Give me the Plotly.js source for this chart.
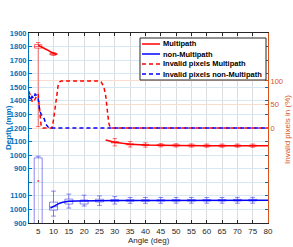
<!DOCTYPE html>
<html>
<head>
<meta charset="utf-8">
<script src="https://cdn.plot.ly/plotly-3.0.1.min.js"></script>
<style>html,body{margin:0;padding:0;background:#fff;}#chart{width:293px;height:247px;}</style>
</head>
<body>
<div id="chart"></div>
<script>
// ---- data (depth in mm, invalid pixels in %) ----
// non-Multipath depths are drawn on the lower (broken) part of the axis, shifted by LOWER_SHIFT
var LOWER_SHIFT = 400;

var angleTicks = [5,10,15,20,25,30,35,40,45,50,55,60,65,70,75,80];
var depthTickVals = [500,600,700,800,900,1000,1100,1200,1300,1400,1500,1600,1700,1800,1900];
var depthTickText = ['900','1000','1100','','900','1000','1100','1200','1300','1400','1500','1600','1700','1800','1900'];
var invalidTickVals = [0,50,100];

var seriesNames = ['Multipath','non-Multipath','Invalid pixels Multipath','Invalid pixels non-Multipath'];

// Multipath mean depth curve
var mpX = [5,6.5,8,9,10,11,null,27,28,30,32.5,35,40,45,50,60,70,80];
var mpY = [1810,1795,1775,1762,1750,1742,null,1112,1105,1095,1087,1081,1075,1072,1071,1070,1070,1070];

// non-Multipath mean depth curve
var nmX = [9,10,11,12,13,14,15,17.5,20,25,30,40,50,60,70,80];
var nmY = [1010,1022,1036,1046,1053,1057,1060,1063,1064,1065,1066,1066,1067,1067,1068,1068];

// Invalid pixels Multipath (%)
var invMpX = [2,2.5,3,3.5,4,4.5,5,5.5,6,6.5,9.5,10,10.5,11,11.5,12,12.5,25,25.5,26,26.5,27,27.5,28,28.5,80];
var invMpY = [78,69,57,55,62,68,72,38,2,0,0,17,46,72,90,98,100,100,98,93,85,70,45,12,0,0];

// Invalid pixels non-Multipath (%)
var invNmX = [2,2.5,3,3.5,4,4.5,5,5.5,6,6.5,7,7.5,8,8.5,80];
var invNmY = [69,59,67,63,72,69,63,36,29,25,19,8,4,0,0];

// Multipath box statistics
var mpBoxX   = [5,10,30,35,40,45,50,55,60,65,70,75];
var mpBoxMed = [1800,1745,1095,1080,1075,1073,1072,1071,1070,1070,1070,1070];
var mpBoxQ1  = [1788,1740,1090,1076,1071,1069,1068,1067,1066,1066,1066,1066];
var mpBoxQ3  = [1815,1750,1100,1084,1079,1077,1076,1075,1074,1074,1074,1074];
var mpBoxLo  = [1210,1735,1068,1060,1059,1061,1060,1059,1058,1058,1058,1058];
var mpBoxHi  = [1830,1755,1122,1100,1091,1085,1084,1083,1082,1082,1082,1082];
var mpOutX = [5];
var mpOutY = [810];

// non-Multipath box statistics
var nmBoxX   = [5,10,15,20,25,30,35,40,45,50,55,60,65,70,75];
var nmBoxMed = [870,1020,1060,1063,1065,1066,1066,1066,1066,1067,1067,1067,1067,1068,1068];
var nmBoxQ1  = [850,995,1040,1040,1055,1058,1060,1060,1061,1061,1061,1062,1062,1062,1062];
var nmBoxQ3  = [1380,1054,1076,1069,1075,1073,1072,1072,1072,1073,1073,1073,1073,1074,1074];
var nmBoxLo  = [800,951,1010,1025,1030,1040,1045,1045,1045,1046,1046,1046,1046,1046,1046];
var nmBoxHi  = [1392,1135,1113,1105,1100,1095,1088,1088,1088,1088,1088,1088,1088,1089,1089];

// ---- drawing ----
function shift(arr){ return arr.map(function(v){ return v === null ? null : v - LOWER_SHIFT; }); }

var RED = '#FF0000', BLUE = '#0000FF';
var AX_BLUE = '#0072BD', AX_ORANGE = '#D95319', DARK = '#262626';
var FONT = 'Liberation Sans, Arial, sans-serif';
var DASH = '4px,3px';

var traces = [
  {x: mpX, y: mpY, mode: 'lines', name: seriesNames[0], line: {color: RED, width: 1.5}, connectgaps: false, showlegend: false},
  {x: nmX, y: shift(nmY), mode: 'lines', name: seriesNames[1], line: {color: BLUE, width: 1.5}, showlegend: false},
  {x: invMpX, y: invMpY, yaxis: 'y2', mode: 'lines', name: seriesNames[2],
   line: {color: RED, width: 1.5, dash: DASH}, showlegend: false},
  {x: invNmX, y: invNmY, yaxis: 'y2', mode: 'lines', name: seriesNames[3],
   line: {color: BLUE, width: 1.5, dash: DASH}, showlegend: false},
  {type: 'box', orientation: 'v', x: mpBoxX, q1: mpBoxQ1, median: mpBoxMed, q3: mpBoxQ3,
   lowerfence: mpBoxLo, upperfence: mpBoxHi, width: 2.4, whiskerwidth: 0.6, boxpoints: false,
   line: {color: 'rgba(255,0,0,0.55)', width: 1}, fillcolor: 'rgba(0,0,0,0)', showlegend: false, hoverinfo: 'skip'},
  {type: 'box', orientation: 'v', x: nmBoxX, q1: shift(nmBoxQ1), median: shift(nmBoxMed), q3: shift(nmBoxQ3),
   lowerfence: shift(nmBoxLo), upperfence: shift(nmBoxHi), width: 2.6, whiskerwidth: 0.6, boxpoints: false,
   line: {color: 'rgba(60,60,230,0.6)', width: 1}, fillcolor: 'rgba(0,0,0,0)', showlegend: false, hoverinfo: 'skip'},
  {x: mpOutX, y: mpOutY, mode: 'markers', marker: {color: 'rgba(255,0,0,0.7)', size: 2}, showlegend: false}
];

// plot-area pixel geometry, for placing legend / titles in paper coordinates
var W = 293, H = 247, L = 29, R = 25, T = 33, B = 24;
var pw = W - L - R, ph = H - T - B;
function px(x){ return (x - L) / pw; }
function py(y){ return (H - B - y) / ph; }

// hand-built legend (box, line samples, labels)
var legColors = [RED, BLUE, RED, BLUE];
var legDash = ['solid','solid',DASH,DASH];
var legRows = [44, 54, 64, 74];
var shapes = [{type: 'rect', xref: 'paper', yref: 'paper', x0: px(140), x1: px(266), y0: py(80), y1: py(38),
  line: {color: DARK, width: 1}, fillcolor: '#fff', layer: 'above'}];
var annotations = [];
for (var i = 0; i < seriesNames.length; i++) {
  shapes.push({type: 'line', xref: 'paper', yref: 'paper', x0: px(142), x1: px(160), y0: py(legRows[i]), y1: py(legRows[i]),
    line: {color: legColors[i], width: 1.5, dash: legDash[i]}, layer: 'above'});
  annotations.push({xref: 'paper', yref: 'paper', x: px(161), y: py(legRows[i]), xanchor: 'left', yanchor: 'middle',
    text: seriesNames[i], showarrow: false, font: {size: 7.5, color: '#000', weight: 'bold'}});
}
annotations.push({xref: 'paper', yref: 'paper', x: px(149), y: py(240), xanchor: 'center', yanchor: 'middle',
  text: 'Angle (deg)', showarrow: false, font: {size: 8, color: DARK}});
annotations.push({xref: 'paper', yref: 'paper', x: px(8), y: py(128), xanchor: 'center', yanchor: 'middle',
  text: 'Depth (mm)', textangle: -90, showarrow: false, font: {size: 8, color: AX_BLUE, weight: 'bold'}});
annotations.push({xref: 'paper', yref: 'paper', x: px(287), y: py(130), xanchor: 'center', yanchor: 'middle',
  text: 'Invalid pixels in (%)', textangle: -90, showarrow: false, font: {size: 8, color: AX_ORANGE}});

var layout = {
  width: W, height: H,
  margin: {l: L, r: R, t: T, b: B, pad: 0},
  paper_bgcolor: '#fff', plot_bgcolor: '#fff',
  font: {family: FONT, size: 8, color: DARK},
  showlegend: false,
  boxmode: 'overlay',
  shapes: shapes,
  annotations: annotations,
  xaxis: {
    range: [2, 80], tickvals: angleTicks, ticks: 'inside', ticklen: 3, tickcolor: DARK,
    showline: true, linecolor: DARK, linewidth: 1, mirror: 'ticks',
    showgrid: true, gridcolor: '#dcdcdc', gridwidth: 1, zeroline: false,
    tickfont: {size: 8, color: DARK}
  },
  yaxis: {
    range: [500, 1900], tickvals: depthTickVals, ticktext: depthTickText,
    ticks: 'inside', ticklen: 3, tickcolor: AX_BLUE,
    showline: true, linecolor: AX_BLUE, linewidth: 1, mirror: 'ticks',
    showgrid: true, gridcolor: '#d7e7f4', gridwidth: 1, zeroline: false,
    tickfont: {size: 7.5, color: AX_BLUE, weight: 'bold'}
  },
  yaxis2: {
    overlaying: 'y', side: 'right', range: [-202, 202], tickvals: invalidTickVals,
    ticks: 'inside', ticklen: 3, tickcolor: AX_ORANGE,
    showline: true, linecolor: AX_ORANGE, linewidth: 1,
    showgrid: true, gridcolor: '#f8dccd', zeroline: false,
    tickfont: {size: 7.5, color: AX_ORANGE}
  }
};

Plotly.newPlot('chart', traces, layout, {displayModeBar: false, staticPlot: true});
</script>
</body>
</html>
